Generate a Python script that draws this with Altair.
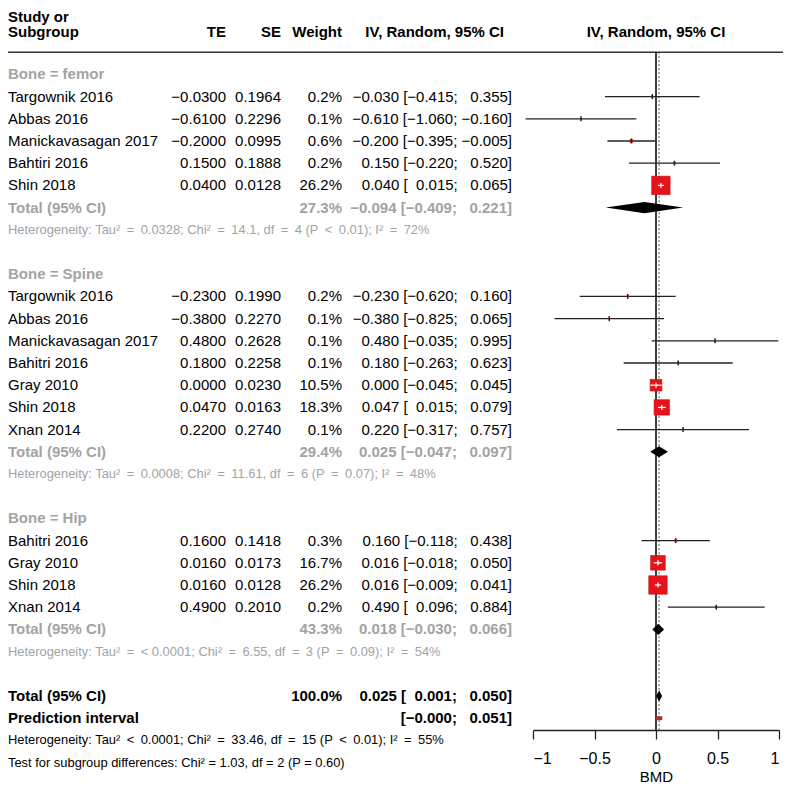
import altair as alt
import pandas as pd

FONT = "Liberation Sans"

# ---------------- data ----------------
group_labels = ["Bone = femor", "Bone = Spine", "Bone = Hip"]

femor_names = ["Targownik 2016", "Abbas 2016", "Manickavasagan 2017", "Bahtiri 2016", "Shin 2018"]
femor_te = [-0.0300, -0.6100, -0.2000, 0.1500, 0.0400]
femor_se = [0.1964, 0.2296, 0.0995, 0.1888, 0.0128]
femor_w = [0.2, 0.1, 0.6, 0.2, 26.2]
femor_lo = [-0.415, -1.060, -0.395, -0.220, 0.015]
femor_hi = [0.355, -0.160, -0.005, 0.520, 0.065]

spine_names = ["Targownik 2016", "Abbas 2016", "Manickavasagan 2017", "Bahitri 2016",
               "Gray 2010", "Shin 2018", "Xnan 2014"]
spine_te = [-0.2300, -0.3800, 0.4800, 0.1800, 0.0000, 0.0470, 0.2200]
spine_se = [0.1990, 0.2270, 0.2628, 0.2258, 0.0230, 0.0163, 0.2740]
spine_w = [0.2, 0.1, 0.1, 0.1, 10.5, 18.3, 0.1]
spine_lo = [-0.620, -0.825, -0.035, -0.263, -0.045, 0.015, -0.317]
spine_hi = [0.160, 0.065, 0.995, 0.623, 0.045, 0.079, 0.757]

hip_names = ["Bahitri 2016", "Gray 2010", "Shin 2018", "Xnan 2014"]
hip_te = [0.1600, 0.0160, 0.0160, 0.4900]
hip_se = [0.1418, 0.0173, 0.0128, 0.2010]
hip_w = [0.3, 16.7, 26.2, 0.2]
hip_lo = [-0.118, -0.018, -0.009, 0.096]
hip_hi = [0.438, 0.050, 0.041, 0.884]

sub_w = [27.3, 29.4, 43.3]
sub_te = [-0.094, 0.025, 0.018]
sub_lo = [-0.409, -0.047, -0.030]
sub_hi = [0.221, 0.097, 0.066]
sub_het = [
    "Heterogeneity: Tau\u00b2 = 0.0328; Chi\u00b2 = 14.1, df = 4 (P < 0.01); I\u00b2 = 72%",
    "Heterogeneity: Tau\u00b2 = 0.0008; Chi\u00b2 = 11.61, df = 6 (P = 0.07); I\u00b2 = 48%",
    "Heterogeneity: Tau\u00b2 = < 0.0001; Chi\u00b2 = 6.55, df = 3 (P = 0.09); I\u00b2 = 54%",
]

overall_w = 100.0
overall_te = 0.025
overall_lo = 0.001
overall_hi = 0.050
pred_lo = -0.000
pred_hi = 0.051
overall_het = "Heterogeneity: Tau\u00b2 < 0.0001; Chi\u00b2 = 33.46, df = 15 (P < 0.01); I\u00b2 = 55%"
subgroup_test = "Test for subgroup differences: Chi\u00b2 = 1.03, df = 2 (P = 0.60)"

header_cols = ["TE", "SE", "Weight", "IV, Random, 95% CI"]
plot_header = "IV, Random, 95% CI"
axis_ticks = [-1, -0.5, 0, 0.5, 1]
axis_title = "BMD"

# ---------------- helpers ----------------
MINUS = "\u2212"
PADSP = "\u2007"
EN = "\u2002"


def m(s):
    return s.replace("-", MINUS)


def f3(v):
    return m(f"{v:.3f}")


def f4(v):
    return m(f"{v:.4f}")


def pad(v):
    s = f3(v)
    return s if s.startswith(MINUS) else PADSP + s


def ci_text(te, lo, hi):
    return f"{f3(te)} [{pad(lo)}; {pad(hi)}]"


def wide_ops(s):
    # wider spacing around relational operators (as in plotmath output)
    return s.replace(" = ", EN + "=" + EN).replace(" < ", EN + "<" + EN)


groups = [
    (group_labels[0], femor_names, femor_te, femor_se, femor_w, femor_lo, femor_hi),
    (group_labels[1], spine_names, spine_te, spine_se, spine_w, spine_lo, spine_hi),
    (group_labels[2], hip_names, hip_te, hip_se, hip_w, hip_lo, hip_hi),
]

texts = []   # row, col, text, sty
studies = []  # row, te, lo, hi, w
diamonds = []  # g, row, te, lo, hi

HEAD_ROW = 0.1
texts.append(dict(row=-0.6, col="name", text="Study or", sty="hb"))
texts.append(dict(row=HEAD_ROW, col="name", text="Subgroup", sty="hb"))
for c, t in zip(["te", "se", "w", "cih"], header_cols):
    texts.append(dict(row=HEAD_ROW, col=c, text=t, sty="hb"))

r = 2
for gi, (lab, names, te, se, w, lo, hi) in enumerate(groups):
    texts.append(dict(row=r, col="name", text=lab, sty="gb"))
    r += 1
    for n, a, b, ww, l, h in zip(names, te, se, w, lo, hi):
        texts.append(dict(row=r, col="name", text=n, sty="n"))
        texts.append(dict(row=r, col="te", text=f4(a), sty="n"))
        texts.append(dict(row=r, col="se", text=f4(b), sty="n"))
        texts.append(dict(row=r, col="w", text=f"{ww:.1f}%", sty="n"))
        texts.append(dict(row=r, col="ci", text=ci_text(a, l, h), sty="n"))
        studies.append(dict(row=r, te=a, lo=l, hi=h, w=ww))
        r += 1
    texts.append(dict(row=r, col="name", text="Total (95% CI)", sty="gb"))
    texts.append(dict(row=r, col="w", text=f"{sub_w[gi]:.1f}%", sty="gb"))
    texts.append(dict(row=r, col="ci", text=ci_text(sub_te[gi], sub_lo[gi], sub_hi[gi]), sty="gb"))
    diamonds.append(dict(g=gi, row=r, te=sub_te[gi], lo=sub_lo[gi], hi=sub_hi[gi]))
    r += 1
    texts.append(dict(row=r, col="name", text=wide_ops(sub_het[gi]), sty="gs"))
    r += 2

texts.append(dict(row=r, col="name", text="Total (95% CI)", sty="b"))
texts.append(dict(row=r, col="w", text=f"{overall_w:.1f}%", sty="b"))
texts.append(dict(row=r, col="ci", text=ci_text(overall_te, overall_lo, overall_hi), sty="b"))
diamonds.append(dict(g=3, row=r, te=overall_te, lo=overall_lo, hi=overall_hi))
r += 1
pred_row = r
texts.append(dict(row=r, col="name", text="Prediction interval", sty="b"))
texts.append(dict(row=r, col="ci", text=f"[{pad(pred_lo)}; {pad(pred_hi)}]", sty="b"))
r += 1
texts.append(dict(row=r, col="name", text=wide_ops(overall_het), sty="s"))
r += 1
texts.append(dict(row=r, col="name", text=subgroup_test, sty="s2"))

text_df = pd.DataFrame(texts)
study_df = pd.DataFrame(studies)

# diamond polygon table
dia_rows = []
HALF = 0.25
for d in diamonds:
    dia_rows.append(dict(g=d["g"], x=d["lo"], yt=d["row"], yb=d["row"]))
    dia_rows.append(dict(g=d["g"], x=d["te"], yt=d["row"] - HALF, yb=d["row"] + HALF))
    dia_rows.append(dict(g=d["g"], x=d["hi"], yt=d["row"], yb=d["row"]))
dia_df = pd.DataFrame(dia_rows)

pred_df = pd.DataFrame(dict(lo=[pred_lo], hi=[pred_hi], row=[pred_row]))

# ---------------- layout ----------------
W, H = 775, 722
GRAY = "#a3a3a3"
xscale = alt.Scale(domain=[-1, 1], range=[525, 771], nice=False, zero=False)
yscale = alt.Scale(domain=[0, 33], range=[22, 754.6], nice=False, zero=False)
AX = alt.Axis(values=axis_ticks, format="~g", title=axis_title, grid=False,
              domainColor="#222", domainWidth=1.3, tickColor="#222", tickWidth=1.3,
              tickSize=9, labelFont=FONT, labelFontSize=16, labelColor="black",
              labelPadding=11, titleFont=FONT, titleFontSize=15, titleFontWeight="normal",
              titleColor="black", titlePadding=3)


def X(f):
    return alt.X(f, scale=xscale, axis=AX)


def Y(f):
    return alt.Y(f, scale=yscale, axis=None)


layers = []

# header rule
layers.append(
    alt.Chart(pd.DataFrame(dict(row=[1]))).mark_rule(color="#333", strokeWidth=1.5)
    .encode(x=alt.value(0), x2=alt.value(W), y=Y("row:Q"))
)
# zero line
layers.append(
    alt.Chart(pd.DataFrame(dict(x=[0.0], row=[1]))).mark_rule(color="black", strokeWidth=1.5)
    .encode(x=X("x:Q"), y=Y("row:Q"), y2=alt.value(H))
)
# overall effect dotted line
layers.append(
    alt.Chart(pd.DataFrame(dict(x=[overall_te], row=[1]))).mark_rule(color="#555", strokeWidth=1, strokeDash=[2, 2])
    .encode(x=X("x:Q"), y=Y("row:Q"), y2=alt.value(H))
)
# CI lines
layers.append(
    alt.Chart(study_df).mark_rule(color="#222", strokeWidth=1.3)
    .encode(x=X("lo:Q"), x2="hi:Q", y=Y("row:Q"))
)
# squares
layers.append(
    alt.Chart(study_df).mark_square(color="#e8121b", opacity=1, stroke="#c40c12", strokeWidth=0.6)
    .encode(x=X("te:Q"), y=Y("row:Q"),
            size=alt.Size("w:Q", scale=alt.Scale(type="linear", domain=[0, 26.2], range=[0, 340]), legend=None))
)
# white CI inside big squares
layers.append(
    alt.Chart(study_df).transform_filter("datum.w >= 10").mark_rule(color="white", strokeWidth=1.3)
    .encode(x=X("lo:Q"), x2="hi:Q", y=Y("row:Q"))
)
# ticks at estimates
layers.append(
    alt.Chart(study_df).transform_filter("datum.w < 10").mark_tick(color="#222", orient="vertical", size=5, thickness=1.5, opacity=1)
    .encode(x=X("te:Q"), y=Y("row:Q"))
)
layers.append(
    alt.Chart(study_df).transform_filter("datum.w >= 10").mark_tick(color="white", orient="vertical", size=5, thickness=1.3, opacity=1)
    .encode(x=X("te:Q"), y=Y("row:Q"))
)
# diamonds
layers.append(
    alt.Chart(dia_df).mark_area(color="black", orient="vertical", opacity=1)
    .encode(x=X("x:Q"), y=Y("yt:Q"), y2="yb:Q", detail="g:N")
)
# prediction interval
layers.append(
    alt.Chart(pred_df).mark_rule(color="#a03232", strokeWidth=4)
    .encode(x=X("lo:Q"), x2="hi:Q", y=Y("row:Q"))
)
# plot header
layers.append(
    alt.Chart(pd.DataFrame(dict(x=[0.0], row=[HEAD_ROW], text=[plot_header])))
    .mark_text(align="center", baseline="middle", font=FONT, fontSize=15, fontWeight="bold", color="black")
    .encode(x=X("x:Q"), y=Y("row:Q"), text="text:N")
)

COLS = {"name": (0, "left"), "te": (218, "right"), "se": (273, "right"),
        "w": (334, "right"), "ci": (504, "right"), "cih": (496, "right")}
STY = {"hb": (15, "bold", "black"), "n": (15, "normal", "black"), "gb": (15, "bold", GRAY),
       "gs": (12.9, "normal", GRAY), "b": (15, "bold", "black"), "s": (12.9, "normal", "black"),
       "s2": (12.9, "normal", "black")}

for (col, sty), sub in text_df.groupby(["col", "sty"]):
    xpos, align = COLS[col]
    size, weight, color = STY[sty]
    layers.append(
        alt.Chart(sub).mark_text(align=align, baseline="middle", font=FONT, fontSize=size,
                                 fontWeight=weight, color=color)
        .encode(x=alt.value(xpos), y=Y("row:Q"), text="text:N")
    )

chart = (
    alt.layer(*layers)
    .properties(width=W, height=H, autosize=alt.AutoSizeParams(type="none"),
                padding={"left": 0, "top": 0, "right": 0, "bottom": 54})
    .configure_view(strokeWidth=0)
)

chart.save("out.html", embed_options={"renderer": "svg", "actions": False})
